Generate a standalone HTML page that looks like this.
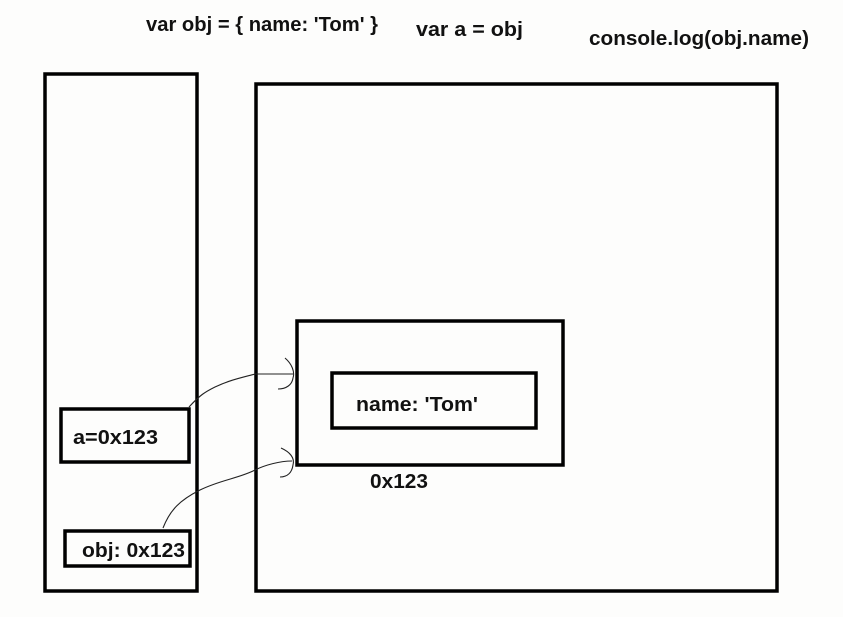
<!DOCTYPE html>
<html><head><meta charset="utf-8"><style>
html,body{margin:0;padding:0;background:#fdfdfc;}
svg{display:block;}
text{font-family:"Liberation Sans",sans-serif;font-weight:bold;fill:#111;}
</style></head><body>
<svg width="843" height="617" viewBox="0 0 843 617" xmlns="http://www.w3.org/2000/svg">
<rect width="843" height="617" fill="#fdfdfc"/>
<g fill="none" stroke="#000" stroke-width="3.5">
<rect x="45" y="74" width="152" height="517"/>
<rect x="256" y="84" width="521" height="507"/>
<rect x="297" y="321" width="266" height="144"/>
<rect x="332" y="373" width="204" height="55"/>
<rect x="61" y="409" width="128" height="53"/>
<rect x="65" y="531" width="125" height="35"/>
</g>
<g fill="none" stroke="#222" stroke-width="1.1">
<path d="M189,407 C200,395 205,392 215,387 C230,380 240,378 255,374 L293,374"/>
<path d="M285,358 C292,364 295,372 293,378 C292,385 286,389 278,389"/>
<path d="M163,528 C170,510 180,500 200,490 C220,480 240,478 255,470 C265,465 280,461 292,461"/>
<path d="M281,448 C290,452 295,458 293,465 C292,472 288,477 280,477"/>
</g>
<text x="146" y="31" font-size="20" textLength="232" lengthAdjust="spacingAndGlyphs">var obj = { name: 'Tom' }</text>
<text x="416" y="36" font-size="20" textLength="107" lengthAdjust="spacingAndGlyphs">var a = obj</text>
<text x="589" y="45" font-size="20" textLength="220" lengthAdjust="spacingAndGlyphs">console.log(obj.name)</text>
<text x="73" y="444" font-size="20" textLength="85" lengthAdjust="spacingAndGlyphs">a=0x123</text>
<text x="82" y="557" font-size="20" textLength="103" lengthAdjust="spacingAndGlyphs">obj: 0x123</text>
<text x="356" y="411" font-size="20" textLength="122" lengthAdjust="spacingAndGlyphs">name: 'Tom'</text>
<text x="370" y="488" font-size="20" textLength="58" lengthAdjust="spacingAndGlyphs">0x123</text>
</svg>
</body></html>
